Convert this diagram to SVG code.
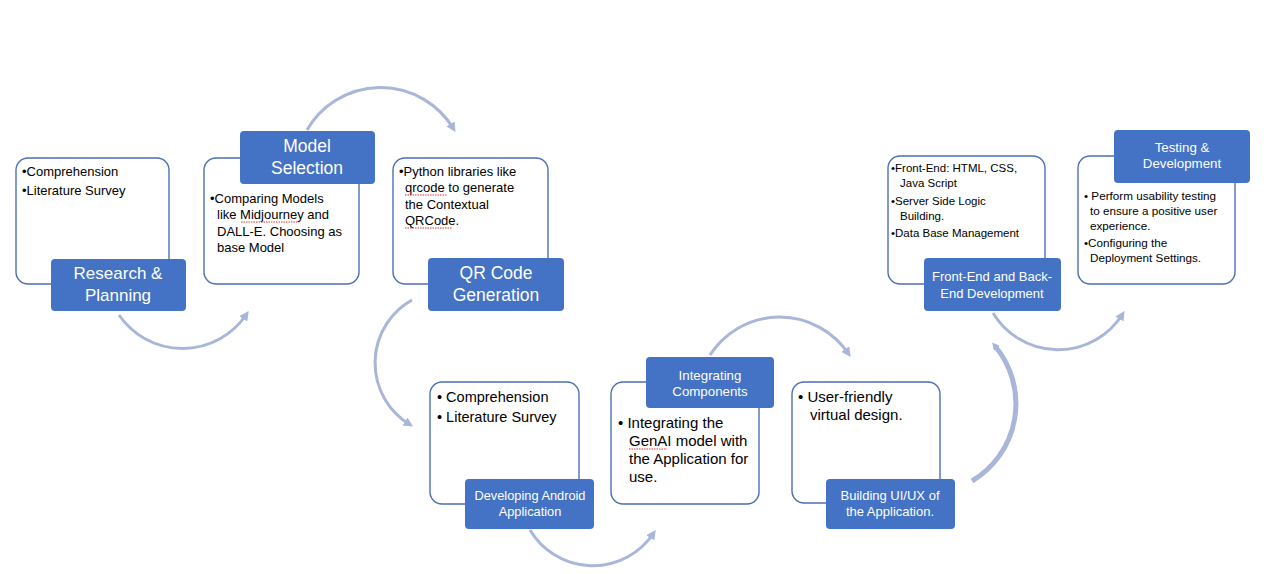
<svg xmlns="http://www.w3.org/2000/svg" width="1280" height="574" viewBox="0 0 1280 574">
<defs>
<style>
.box{fill:#fff;stroke:#4A6FB5;stroke-width:1.4}
.lab{fill:#4472C4;stroke:none}
.lt{font-family:"Liberation Sans",Arial,sans-serif;fill:#fff;text-anchor:middle}
.bt{font-family:"Liberation Sans",Arial,sans-serif;fill:#000}
.arc{fill:none;stroke:#A9B6DA;stroke-width:3;marker-end:url(#ah)}
.sp{fill:none;stroke:#E03030;stroke-width:1;stroke-dasharray:1.5 1}
</style>
<marker id="ah" viewBox="0 0 10 10" refX="5" refY="5" markerWidth="3.2" markerHeight="3.2" orient="auto" markerUnits="strokeWidth">
<path d="M0,0 L10,5 L0,10 z" fill="#A9B6DA"/>
</marker>
<marker id="ah2" viewBox="0 0 10 10" refX="4" refY="5" markerWidth="1.5" markerHeight="1.5" orient="auto" markerUnits="strokeWidth">
<path d="M0,0 L10,5 L0,10 z" fill="#A9B6DA"/>
</marker>
</defs>
<rect width="1280" height="574" fill="#fff"/>

<g id="connectors">
<path class="arc" d="M119,315 A77,77 0 0 0 246,315"/>
<path class="arc" d="M307,130 A85,85 0 0 1 453,128"/>
<path class="arc" d="M412,300 A72,72 0 0 0 409,424"/>
<path class="arc" d="M530,530 A73,73 0 0 0 653,534"/>
<path class="arc" d="M710,355 A83,83 0 0 1 848,353"/>
<path class="arc" d="M972,481 A90,90 0 0 0 995,346" style="stroke-width:5;marker-end:url(#ah2)"/>
<path class="arc" d="M993,313 A76,76 0 0 0 1122,315"/>
</g>

<g id="research-planning">
<rect class="box" x="16" y="158" width="153" height="126" rx="12"/>
<text class="bt" font-size="13" x="22" y="176">•Comprehension</text>
<text class="bt" font-size="13" x="22" y="195">•Literature Survey</text>
<rect class="lab" x="51" y="259" width="135" height="52" rx="4"/>
<text class="lt" font-size="17" x="118" y="279">Research &amp;</text>
<text class="lt" font-size="17" x="118" y="301">Planning</text>
</g>

<g id="model-selection">
<rect class="box" x="204" y="158" width="155" height="126" rx="12"/>
<text class="bt" font-size="13" x="210" y="203">•Comparing Models</text>
<text class="bt" font-size="13" x="217" y="219">like Midjourney and</text>
<text class="bt" font-size="13" x="217" y="236">DALL-E. Choosing as</text>
<text class="bt" font-size="13" x="217" y="252">base Model</text>
<path class="sp" d="M241,222 L299,222"/>
<rect class="lab" x="240" y="131" width="135" height="53" rx="4"/>
<text class="lt" font-size="17.5" x="307" y="152">Model</text>
<text class="lt" font-size="17.5" x="307" y="174">Selection</text>
</g>

<g id="qr-code-generation">
<rect class="box" x="393" y="158" width="155" height="126" rx="12"/>
<text class="bt" font-size="13" x="399" y="176">•Python libraries like</text>
<text class="bt" font-size="13" x="405" y="192">qrcode to generate</text>
<text class="bt" font-size="13" x="405" y="209">the Contextual</text>
<text class="bt" font-size="13" x="405" y="225">QRCode.</text>
<path class="sp" d="M405,195 L447,195"/>
<path class="sp" d="M405,228 L452,228"/>
<rect class="lab" x="428" y="258" width="136" height="53" rx="4"/>
<text class="lt" font-size="17.5" x="496" y="279">QR Code</text>
<text class="lt" font-size="17.5" x="496" y="301">Generation</text>
</g>

<g id="developing-android">
<rect class="box" x="430" y="382" width="149" height="122" rx="12"/>
<text class="bt" font-size="14.5" x="437" y="402">• Comprehension</text>
<text class="bt" font-size="14.5" x="437" y="422">• Literature Survey</text>
<rect class="lab" x="465" y="479" width="129" height="50" rx="4"/>
<text class="lt" font-size="12.8" x="530" y="500">Developing Android</text>
<text class="lt" font-size="12.8" x="530" y="516">Application</text>
</g>

<g id="integrating-components">
<rect class="box" x="611" y="382" width="148" height="122" rx="12"/>
<text class="bt" font-size="15" x="618" y="428">• Integrating the</text>
<text class="bt" font-size="15" x="629" y="446">GenAI model with</text>
<text class="bt" font-size="15" x="629" y="464">the Application for</text>
<text class="bt" font-size="15" x="629" y="482">use.</text>
<path class="sp" d="M629,449 L667,449"/>
<rect class="lab" x="646" y="357" width="128" height="51" rx="4"/>
<text class="lt" font-size="13.3" x="710" y="380">Integrating</text>
<text class="lt" font-size="13.3" x="710" y="396">Components</text>
</g>

<g id="building-uiux">
<rect class="box" x="792" y="382" width="148" height="121" rx="12"/>
<text class="bt" font-size="15" x="798" y="402">• User-friendly</text>
<text class="bt" font-size="15" x="810" y="420">virtual design.</text>
<rect class="lab" x="826" y="479" width="129" height="50" rx="4"/>
<text class="lt" font-size="13" x="890" y="500">Building UI/UX of</text>
<text class="lt" font-size="13" x="890" y="516">the Application.</text>
</g>

<g id="front-back-end">
<rect class="box" x="888" y="156" width="157" height="128" rx="12"/>
<text class="bt" font-size="11.5" x="891" y="172">•Front-End: HTML, CSS,</text>
<text class="bt" font-size="11.5" x="900" y="187">Java Script</text>
<text class="bt" font-size="11.5" x="891" y="205">•Server Side Logic</text>
<text class="bt" font-size="11.5" x="900" y="220">Building.</text>
<text class="bt" font-size="11.5" x="891" y="237">•Data Base Management</text>
<rect class="lab" x="924" y="258" width="137" height="53" rx="4"/>
<text class="lt" font-size="13" x="992" y="281">Front-End and Back-</text>
<text class="lt" font-size="13" x="992" y="298">End Development</text>
</g>

<g id="testing-development">
<rect class="box" x="1078" y="156" width="157" height="128" rx="12"/>
<text class="bt" font-size="11.7" x="1084" y="200">• Perform usability testing</text>
<text class="bt" font-size="11.7" x="1090" y="215">to ensure a positive user</text>
<text class="bt" font-size="11.7" x="1090" y="230">experience.</text>
<text class="bt" font-size="11.7" x="1084" y="247">•Configuring the</text>
<text class="bt" font-size="11.7" x="1090" y="262">Deployment Settings.</text>
<rect class="lab" x="1114" y="130" width="136" height="53" rx="4"/>
<text class="lt" font-size="13.3" x="1182" y="152">Testing &amp;</text>
<text class="lt" font-size="13.3" x="1182" y="168">Development</text>
</g>
</svg>
